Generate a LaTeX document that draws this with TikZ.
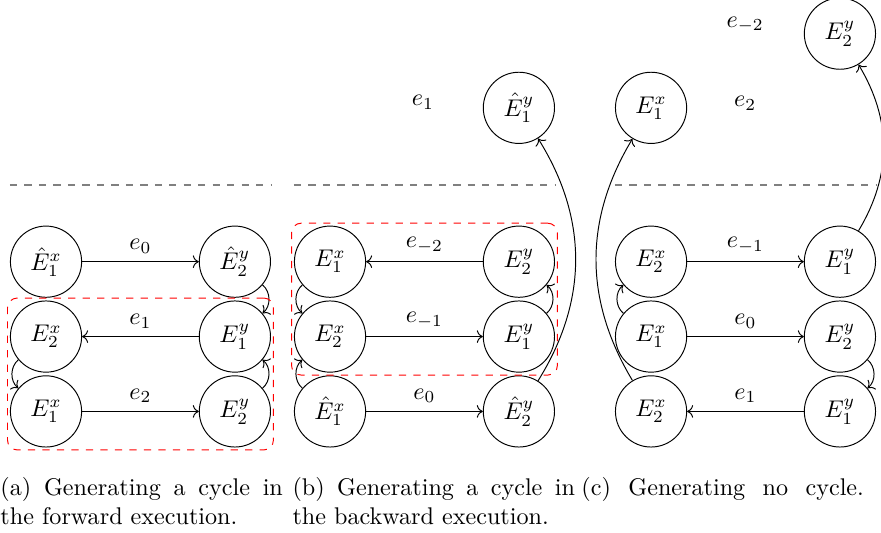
\documentclass[tikz,border=0pt]{standalone}
\usetikzlibrary{arrows.meta, positioning, fit}

\begin{document}
\begin{tikzpicture}[
		state/.style={draw, circle, minimum size=29.5pt, inner sep=0pt},
		flow/.style={->},
		cyc/.style={draw=red, dashed, rounded corners, inner sep=1pt},
		split/.style={dashed, thick, gray},
		lbl/.style={inner sep=0pt},
		subcap/.style={anchor=north west, inner sep=0pt, text width=117pt, align=justify},
		node distance=1.09cm and 2.75cm, on grid
		]
		
		\useasboundingbox (0,0) rectangle (12.827,-7.760);
		\coordinate (cut) at (0,-2.69);
		
		% (a): forward execution
		\node[state] (a0x) at (0.670,-3.810) {$\hat{E}^x_1$};
		\node[state, right=of a0x] (a0y) {$\hat{E}^y_2$};
		\node[state, below=of a0x] (a1x) {$E^x_2$};
		\node[state, right=of a1x] (a1y) {$E^y_1$};
		\node[state, below=of a1x] (a2x) {$E^x_1$};
		\node[state, right=of a2x] (a2y) {$E^y_2$};
		
		\draw[flow] (a0x) -- node[above] {$e_0$} (a0y);
		\draw[flow] (a1y) -- node[above] {$e_1$} (a1x);
		\draw[flow] (a2x) -- node[above] {$e_2$} (a2y);
		\draw[flow] (a0y) to[bend left=50] (a1y);
		\draw[flow] (a1x) to[bend right=50] (a2x);
		\draw[flow] (a2y) to[bend right=50] (a1y);
		
		\node[cyc, fit=(a1x) (a2y)] (acyc) {};
		\draw[split] (a0x.west |- cut) -- (a0y.east |- cut);
		
		% (b): backward execution
		\node[state] (b0x) at (4.805,-3.810) {$E^x_1$};
		\node[state, right=of b0x] (b0y) {$E^y_2$};
		\node[state, below=of b0x] (b1x) {$E^x_2$};
		\node[state, right=of b1x] (b1y) {$E^y_1$};
		\node[state, below=of b1x] (b2x) {$\hat{E}^x_1$};
		\node[state, right=of b2x] (b2y) {$\hat{E}^y_2$};
		\node[state, above=2.24cm of b0y] (bty) {$\hat{E}^y_1$};
		\node[lbl] (be1) at (6.159,-1.485) {$e_1$};
		
		\draw[flow] (b0y) -- node[above] {$e_{-2}$} (b0x);
		\draw[flow] (b1x) -- node[above] {$e_{-1}$} (b1y);
		\draw[flow] (b2x) -- node[above] {$e_0$} (b2y);
		\draw[flow] (b0x) to[bend right=50] (b1x);
		\draw[flow] (b2x) to[bend left=50] (b1x);
		\draw[flow] (b1y) to[bend right=50] (b0y);
		\draw[flow] (b2y) to[bend right=32] (bty);
		
		\node[cyc, fit=(b0x) (b1y)] (bcyc) {};
		\draw[split] (b0x.west |- cut) -- (b0y.east |- cut);
		
		% (c): no cycle
		\node[state] (c0x) at (9.479,-3.810) {$E^x_2$};
		\node[state, right=of c0x] (c0y) {$E^y_1$};
		\node[state, below=of c0x] (c1x) {$E^x_1$};
		\node[state, right=of c1x] (c1y) {$E^y_2$};
		\node[state, below=of c1x] (c2x) {$E^x_2$};
		\node[state, right=of c2x] (c2y) {$E^y_1$};
		\node[state, above=2.24cm of c0x] (ctx) {$E^x_1$};
		\node[state, above=3.32cm of c0y] (cty) {$E^y_2$};
		\node[lbl] (ce2) at (10.85,-1.50) {$e_2$};
		\node[lbl] (cem2) at (10.85,-0.36) {$e_{-2}$};
		
		\draw[flow] (c0x) -- node[above] {$e_{-1}$} (c0y);
		\draw[flow] (c1x) -- node[above] {$e_0$} (c1y);
		\draw[flow] (c2y) -- node[above] {$e_1$} (c2x);
		\draw[flow] (c1x) to[bend left=50] (c0x);
		\draw[flow] (c1y) to[bend left=50] (c2y);
		\draw[flow] (c2x) to[bend left=31] (ctx);
		\draw[flow] (c0y) to[bend right=31] (cty);
		
		\draw[split] (c0x.west |- cut) -- (c0y.east |- cut);
		
		% captions
		\node[subcap] (capa) at (0,-6.94) {(a) Generating a cycle in the forward execution.};
		\node[subcap] (capb) at (4.252,-6.94) {(b) Generating a cycle in the backward execution.};
		\node[subcap] (capc) at (8.459,-6.94) {\hbox to 117pt{(c) Generating no cycle.}};
		
	\end{tikzpicture}
\end{document}
